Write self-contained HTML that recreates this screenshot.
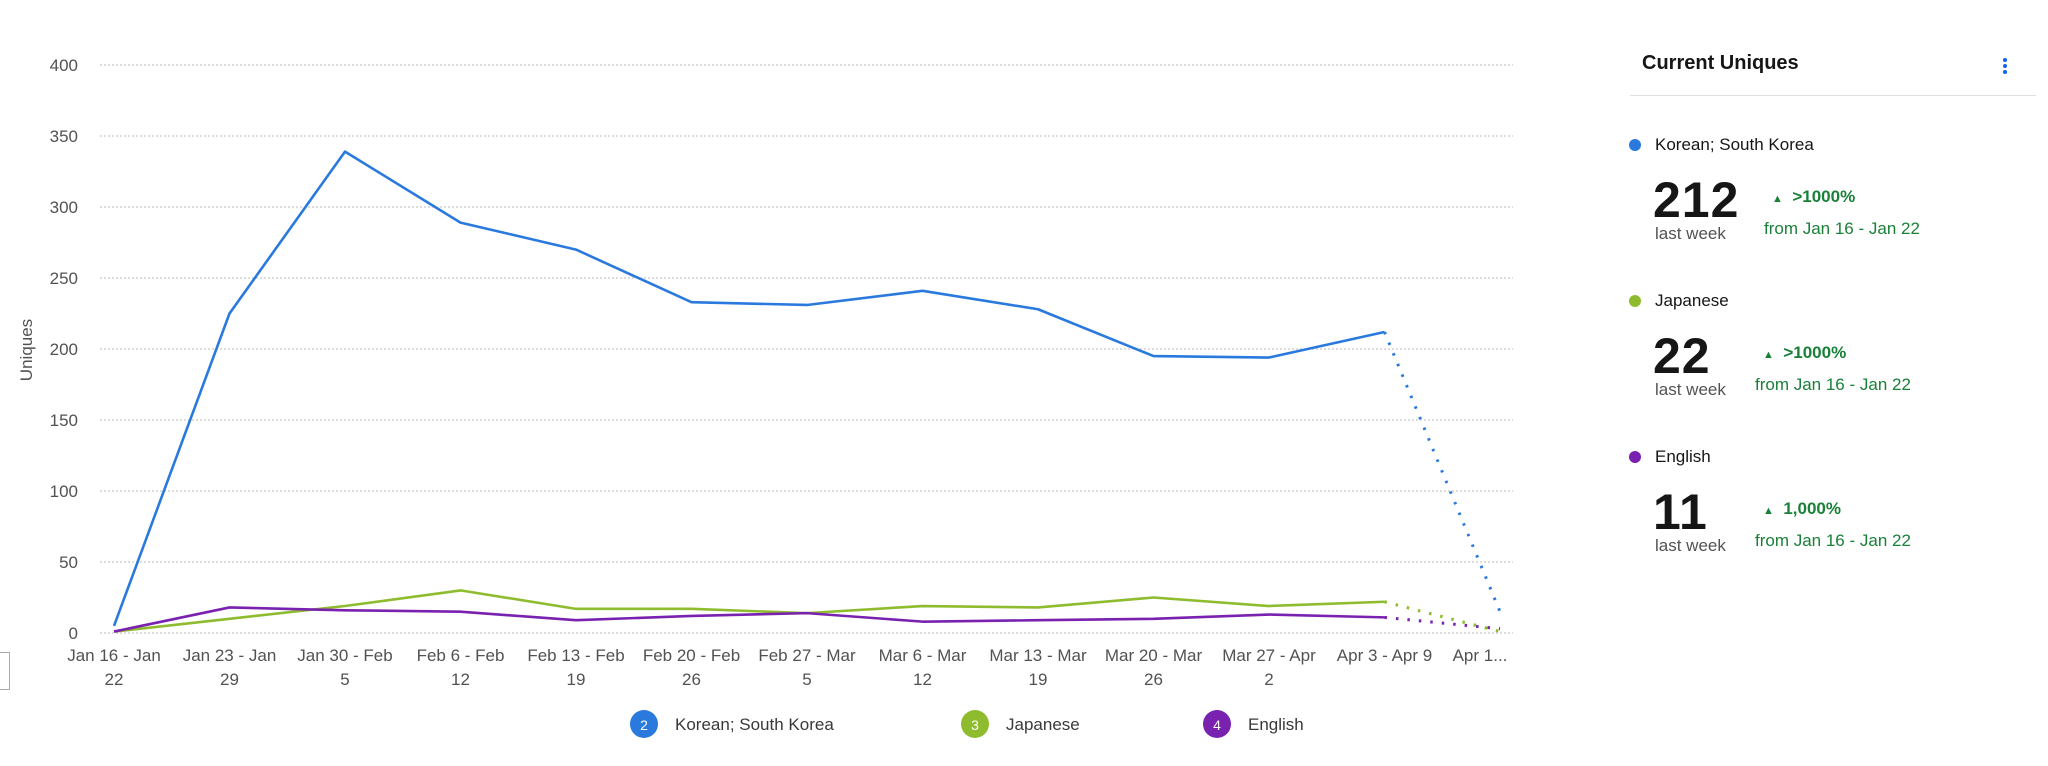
<!DOCTYPE html>
<html><head><meta charset="utf-8"><style>
body{margin:0;width:2048px;height:766px;background:#fff;font-family:"Liberation Sans",sans-serif;overflow:hidden;position:relative}
.abs{position:absolute;white-space:nowrap}
.lbl{font-size:17px;color:#161616}
.big{font-size:50px;font-weight:bold;color:#161616;letter-spacing:1px}
.lw{font-size:17px;color:#525252}
.chg{font-size:17px;font-weight:bold;color:#198038}
.from{font-size:17px;color:#198038}
.dot{width:12px;height:12px;border-radius:50%}
</style></head><body>
<div class="abs" style="left:-2px;top:652px;width:10px;height:36px;border:1px solid #aaa"></div>
<svg id="chart" width="1560" height="766" style="position:absolute;left:0;top:0"></svg>

<div class="abs" style="left:1642px;top:52px;font-size:20px;font-weight:bold;color:#161616">Current Uniques</div>
<div class="abs" style="left:2003px;top:58px;width:6px">
<div style="width:4px;height:4px;border-radius:50%;background:#0f62fe;margin-bottom:2px"></div><div style="width:4px;height:4px;border-radius:50%;background:#0f62fe;margin-bottom:2px"></div><div style="width:4px;height:4px;border-radius:50%;background:#0f62fe"></div></div>
<div class="abs" style="left:1630px;top:95px;width:406px;height:1px;background:#e0e0e0"></div>

<div>
<div class="abs dot" style="left:1629px;top:139px;background:#2a7ade"></div>
<div class="abs lbl" style="left:1655px;top:135px">Korean; South Korea</div>
<div class="abs big" style="left:1653px;top:171px">212</div>
<div class="abs lw" style="left:1655px;top:224px">last week</div>
<div class="abs chg" style="left:1772px;top:187px"><span style="font-size:11px">▲</span>&nbsp; &gt;1000%</div>
<div class="abs from" style="left:1764px;top:219px">from Jan 16 - Jan 22</div>
</div>
<div>
<div class="abs dot" style="left:1629px;top:295px;background:#8fbc2f"></div>
<div class="abs lbl" style="left:1655px;top:291px">Japanese</div>
<div class="abs big" style="left:1653px;top:327px">22</div>
<div class="abs lw" style="left:1655px;top:380px">last week</div>
<div class="abs chg" style="left:1763px;top:343px"><span style="font-size:11px">▲</span>&nbsp; &gt;1000%</div>
<div class="abs from" style="left:1755px;top:375px">from Jan 16 - Jan 22</div>
</div>
<div>
<div class="abs dot" style="left:1629px;top:451px;background:#7a22b0"></div>
<div class="abs lbl" style="left:1655px;top:447px">English</div>
<div class="abs big" style="left:1653px;top:483px">11</div>
<div class="abs lw" style="left:1655px;top:536px">last week</div>
<div class="abs chg" style="left:1763px;top:499px"><span style="font-size:11px">▲</span>&nbsp; 1,000%</div>
<div class="abs from" style="left:1755px;top:531px">from Jan 16 - Jan 22</div>
</div>

<script>
const categories=["Jan 16 - Jan|22","Jan 23 - Jan|29","Jan 30 - Feb|5","Feb 6 - Feb|12","Feb 13 - Feb|19","Feb 20 - Feb|26","Feb 27 - Mar|5","Mar 6 - Mar|12","Mar 13 - Mar|19","Mar 20 - Mar|26","Mar 27 - Apr|2","Apr 3 - Apr 9","Apr 1..."];
const korean=[5,225,339,289,270,233,231,241,228,195,194,212,15];
const japanese=[1,10,19,30,17,17,14,19,18,25,19,22,1];
const english=[1,18,16,15,9,12,14,8,9,10,13,11,3];
const yTicks=[0,50,100,150,200,250,300,350,400];
const seriesNames=["Korean; South Korea","Japanese","English"];
const seriesColors=["#2a7ade","#8fbc2f","#7a22b0"];
const svg=document.getElementById('chart');const NS="http://www.w3.org/2000/svg";
const x=i=>114+i*115.5;const y=v=>633-v*(568/400);
function mk(t,a,p){const e=document.createElementNS(NS,t);for(const k in a)e.setAttribute(k,a[k]);(p||svg).appendChild(e);return e;}
yTicks.forEach(v=>{
 const g=mk('line',{x1:100,x2:1513,y1:y(v),y2:y(v),stroke:'#bbb','stroke-width':1,'stroke-dasharray':'2,2'});
 
 
 const t=mk('text',{x:78,y:y(v)+6,'text-anchor':'end','font-size':17,fill:'#525252','font-family':'Liberation Sans'});t.textContent=v;
 
 
});
const yt=mk('text',{transform:'translate(32,350) rotate(-90)','text-anchor':'middle','font-size':17,fill:'#525252','font-family':'Liberation Sans'});yt.textContent='Uniques';


categories.forEach((c,i)=>{
 const parts=c.split('|');
 const cx=i===categories.length-1?x(i)-20:x(i);
 parts.forEach((p,j)=>{const t=mk('text',{x:cx,y:661+j*24,'text-anchor':'middle','font-size':17,fill:'#525252','font-family':'Liberation Sans'});t.textContent=p;
 
 });
});
[korean,japanese,english].forEach((s,k)=>{
 const n=s.length;
 const pts=s.slice(0,n-1).map((v,i)=>x(i)+','+y(v)).join(' ');
 const l=mk('polyline',{points:pts,fill:'none',stroke:seriesColors[k],'stroke-width':2.6,'stroke-linejoin':'round'});
 
 
 const d=mk('line',{x1:x(n-2),y1:y(s[n-2]),x2:x(n-1),y2:y(s[n-1]),stroke:seriesColors[k],'stroke-width':3,'stroke-dasharray':'2.5,9'});
 
 
});
const lx=[644,975,1217];
seriesNames.forEach((nm,k)=>{
 const c=mk('circle',{cx:lx[k],cy:724,r:14,fill:seriesColors[k]});
 
 
 const n=mk('text',{x:lx[k],y:730,'text-anchor':'middle','font-size':14,fill:'#fff','font-family':'Liberation Sans'});n.textContent=k+2;
 
 
 const t=mk('text',{x:lx[k]+31,y:730,'font-size':17,fill:'#393939','font-family':'Liberation Sans'});t.textContent=nm;
 
 
});
</script>
</body></html>
